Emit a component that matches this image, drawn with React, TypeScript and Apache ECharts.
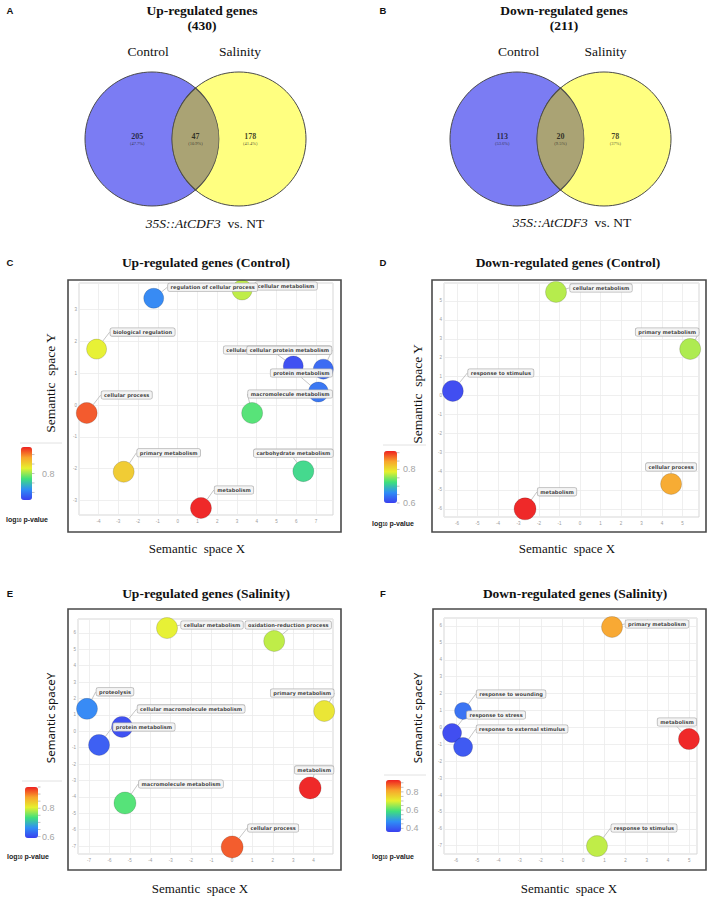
import React, { useEffect, useRef } from "react";
import * as echarts from "echarts";

// ================= DATA =================
// Venn diagrams (Control only, shared, Salinity only)
const vennSetNames = ["Control", "Salinity"];
const upTitle = "Up-regulated genes";
const downTitle = "Down-regulated genes";
const upCounts = [205, 47, 178];
const downCounts = [113, 20, 78];

// Panel C: Up-regulated genes (Control)
const cTerms = [
  "cellular metabolism",
  "regulation of cellular process",
  "biological regulation",
  "cellular macromolecule metabolism",
  "cellular protein metabolism",
  "protein metabolism",
  "cellular process",
  "macromolecule metabolism",
  "primary metabolism",
  "carbohydrate metabolism",
  "metabolism",
];
const cX = [3.26, -1.21, -4.1, 5.85, 7.37, 7.12, -4.6, 3.77, -2.73, 6.36, 1.18];
const cY = [3.62, 3.36, 1.76, 1.23, 1.13, 0.41, -0.25, -0.25, -2.1, -2.08, -3.24];
const cP = [0.814, 0.71, 0.828, 0.668, 0.688, 0.696, 0.918, 0.778, 0.856, 0.766, 0.94];
const cSize = [20, 20, 20, 20, 20, 20, 21, 21, 21, 21, 21];
const cColorTicks = [0.8];

// Panel D: Down-regulated genes (Control)
const dTerms = ["cellular metabolism", "primary metabolism", "response to stimulus", "cellular process", "metabolism"];
const dX = [-1.17, 5.37, -6.2, 4.44, -2.68];
const dY = [5.48, 2.46, 0.24, -4.68, -6.0];
const dP = [0.767, 0.764, 0.606, 0.845, 0.91];
const dSize = [21, 21, 21, 21, 22];
const dColorTicks = [0.8, 0.6];

// Panel E: Up-regulated genes (Salinity)
const eTerms = [
  "cellular metabolism",
  "oxidation-reduction process",
  "proteolysis",
  "cellular macromolecule metabolism",
  "protein metabolism",
  "primary metabolism",
  "metabolism",
  "macromolecule metabolism",
  "cellular process",
];
const eX = [-3.18, 2.07, -7.1, -5.38, -6.51, 4.52, 3.83, -5.24, 0.01];
const eY = [6.3, 5.51, 1.37, 0.27, -0.83, 1.24, -3.45, -4.37, -7.05];
const eP = [0.806, 0.788, 0.655, 0.6, 0.615, 0.817, 0.95, 0.741, 0.921];
const eSize = [21, 21, 21, 21, 21, 21, 22, 22, 22];
const eColorTicks = [0.8, 0.6];

// Panel F: Down-regulated genes (Salinity)
const fTerms = [
  "primary metabolism",
  "response to wounding",
  "response to stress",
  "response to external stimulus",
  "metabolism",
  "response to stimulus",
];
const fX = [1.36, -5.67, -6.19, -5.67, 4.99, 0.65];
const fY = [5.94, 0.97, -0.33, -1.16, -0.69, -7.02];
const fP = [0.816, 0.428, 0.371, 0.389, 0.93, 0.674];
const fSize = [21, 17, 19, 19, 21, 21];
const fColorTicks = [0.8, 0.6, 0.4];

// ================= LAYOUT / STYLE =================
const W = 708;
const H = 899;
const SERIF = "'Liberation Serif', 'Times New Roman', serif";
const SANS = "'Liberation Sans', Arial, sans-serif";
const LABEL_FONT = "'DejaVu Sans', Verdana, sans-serif";
const VIS_COLORS = ["#3a3ff0", "#2f8ef5", "#3fe07c", "#e6f02e", "#f8a52c", "#ee2020"];

// label offsets (px) relative to bubble centre
const cDx = [44, 59, 46, -16, -34, -17, 40, 38, 45, -10, 33];
const cDy = [-4, -11, -17, -16, -19, -19, -18, -19, -19, -18, -18];
const dDx = [45, -23, 48, 0, 32];
const dDy = [-4, -17, -18, -17, -17];
const eDx = [45, 14, 28, 69, 45, -22, 4, 56, 41];
const eDy = [-3, -16, -17, -18, -18, -18, -18, -19, -19];
const fDx = [45, 48, 44, 59, -12, 47];
const fDy = [-3, -17, -18, -18, -17, -18];

// Venn geometry
const VENN_UNIT = 87; // px between circle centres
const VENN_D = 134; // circle diameter
const vennCircleX = [-0.5, 0.5];
const vennLabelX = [-0.67, 0, 0.63];
const vennColors = ["#7b7cf3", "#ffff80"];
const LENS_COLOR = "#aaa374";
const LENS_W = VENN_D - VENN_UNIT;
const LENS_H = 2 * Math.sqrt((VENN_D / 2) ** 2 - (VENN_UNIT / 2) ** 2);
const LENS_PATH = `path://M${LENS_W / 2} 0A${VENN_D / 2} ${VENN_D / 2} 0 0 1 ${LENS_W / 2} ${LENS_H}A${VENN_D / 2} ${VENN_D / 2} 0 0 1 ${LENS_W / 2} 0Z`;

const venns = [
  { title: upTitle, counts: upCounts, midX: 195.5, cy: 139, titleX: 202, setX: [148, 240], captionX: 205, captionY: 223, letter: "A", letterX: 10 },
  { title: downTitle, counts: downCounts, midX: 560.5, cy: 139, titleX: 564, setX: [518.5, 605.5], captionX: 572, captionY: 222, letter: "B", letterX: 383 },
];

const panels = [
  {
    letter: "C", title: "Up-regulated genes (Control)",
    terms: cTerms, x: cX, y: cY, p: cP, size: cSize, dx: cDx, dy: cDy, ticks: cColorTicks,
    grid: { left: 79, top: 283, width: 254, height: 232 }, xr: [-4.99, 7.86], yr: [-3.46, 3.84],
    frame: [68, 280, 273, 252],
    cb: { left: 21, top: 447, w: 11, h: 53, min: 0.66, max: 0.94, labelX: 42 },
    titleXY: [206, 262], letterXY: [10, 262], xNameXY: [197, 548], yNameXY: [50, 383], yName: "Semantic  space Y", ySans: false,
    logXY: [27, 519], sep: [20, 62, 443],
  },
  {
    letter: "D", title: "Down-regulated genes (Control)",
    terms: dTerms, x: dX, y: dY, p: dP, size: dSize, dx: dDx, dy: dDy, ticks: dColorTicks,
    grid: { left: 444, top: 283, width: 255, height: 234 }, xr: [-6.63, 5.8], yr: [-6.43, 5.95],
    frame: [432, 280, 274, 252],
    cb: { left: 384, top: 451, w: 13, h: 52, min: 0.6, max: 0.91, labelX: 403 },
    titleXY: [568, 262], letterXY: [383, 262], xNameXY: [567, 548], yNameXY: [417, 394], yName: "Semantic  space Y", ySans: false,
    logXY: [393, 523], sep: [383, 426, 445],
  },
  {
    letter: "E", title: "Up-regulated genes (Salinity)",
    terms: eTerms, x: eX, y: eY, p: eP, size: eSize, dx: eDx, dy: eDy, ticks: eColorTicks,
    grid: { left: 78, top: 619, width: 255, height: 235 }, xr: [-7.54, 4.95], yr: [-7.48, 6.85],
    frame: [68, 609, 273, 261],
    cb: { left: 25, top: 787, w: 13, h: 51, min: 0.59, max: 0.95, labelX: 42 },
    titleXY: [206, 593], letterXY: [10, 593], xNameXY: [200, 888], yNameXY: [50, 718], yName: "Semantic spaceY", ySans: true,
    logXY: [28, 856], sep: [22, 62, 781],
  },
  {
    letter: "F", title: "Down-regulated genes (Salinity)",
    terms: fTerms, x: fX, y: fY, p: fP, size: fSize, dx: fDx, dy: fDy, ticks: fColorTicks,
    grid: { left: 444, top: 618, width: 253, height: 236 }, xr: [-6.57, 5.37], yr: [-7.49, 6.47],
    frame: [433, 609, 273, 261],
    cb: { left: 386, top: 780, w: 15, h: 52, min: 0.36, max: 0.93, labelX: 406 },
    titleXY: [575, 593], letterXY: [383, 593], xNameXY: [569, 888], yNameXY: [417, 718], yName: "Semantic spaceY", ySans: true,
    logXY: [393, 856], sep: [384, 426, 775],
  },
];

// ================= HELPERS =================
const txt = (x: number, y: number, text: string, o: any = {}) => ({
  type: "text",
  x,
  y,
  rotation: o.rotation || 0,
  silent: true,
  z: 50,
  style: {
    text,
    fill: o.fill || "#111",
    fontSize: o.fontSize || 13,
    fontFamily: o.fontFamily || SERIF,
    fontWeight: o.fontWeight || "normal",
    fontStyle: o.fontStyle || "normal",
    textAlign: o.align || "center",
    textVerticalAlign: "middle",
    align: o.align || "center",
    verticalAlign: "middle",
    rich: o.rich,
  },
});

const intLabel = (v: number) => (Math.abs(v - Math.round(v)) < 1e-6 ? String(Math.round(v)) : "");

const fmtPct = (c: number, total: number) => (Math.round((c / total) * 1000) / 10).toFixed(1).replace(/\.0$/, "");

function buildOption() {
  const grid: any[] = [];
  const xAxis: any[] = [];
  const yAxis: any[] = [];
  const series: any[] = [];
  const visualMap: any[] = [];
  const graphic: any[] = [];

  // ---- Venn diagrams ----
  venns.forEach((v) => {
    const gi = grid.length;
    grid.push({ left: v.midX - 1.5 * VENN_UNIT, top: v.cy - VENN_UNIT, width: 3 * VENN_UNIT, height: 2 * VENN_UNIT, show: false });
    xAxis.push({ type: "value", gridIndex: gi, min: -1.5, max: 1.5, show: false });
    yAxis.push({ type: "value", gridIndex: gi, min: -1, max: 1, show: false });
    const total = v.counts.reduce((a, b) => a + b, 0);
    series.push({
      type: "scatter", xAxisIndex: gi, yAxisIndex: gi, silent: true, clip: false, symbolSize: VENN_D,
      data: vennCircleX.map((x, i) => ({ value: [x, 0], itemStyle: { color: vennColors[i] } })),
      itemStyle: { borderColor: "#4a4a4a", borderWidth: 1, opacity: 1 },
      z: 2,
    });
    series.push({
      type: "scatter", xAxisIndex: gi, yAxisIndex: gi, silent: true, clip: false,
      symbol: LENS_PATH, symbolSize: [LENS_W, LENS_H], data: [[0, 0]],
      itemStyle: { color: LENS_COLOR, borderColor: "#4a4a4a", borderWidth: 1, opacity: 1 },
      z: 3,
    });
    series.push({
      type: "scatter", xAxisIndex: gi, yAxisIndex: gi, silent: true, clip: false, symbolSize: 1,
      itemStyle: { color: "rgba(0,0,0,0)" },
      data: v.counts.map((c, i) => ({ value: [vennLabelX[i], 0], name: String(c) })),
      label: {
        show: true, position: "inside",
        formatter: (p: any) => `{n|${p.name}}\n{p|(${fmtPct(v.counts[p.dataIndex], total)}%)}`,
        rich: {
          n: { fontSize: 8, fontWeight: "bold", fontFamily: SERIF, color: "#111", lineHeight: 8, align: "center" },
          p: { fontSize: 4.5, fontFamily: SERIF, color: "#222", lineHeight: 6, align: "center" },
        },
      },
      z: 4,
    });
    graphic.push(txt(v.letterX, 10, v.letter, { fontFamily: SANS, fontWeight: "bold", fontSize: 9.5 }));
    graphic.push(txt(v.titleX, 10, v.title, { fontWeight: "bold", fontSize: 13.5 }));
    graphic.push(txt(v.titleX, 25, `(${total})`, { fontWeight: "bold", fontSize: 13.5 }));
    vennSetNames.forEach((n, i) => graphic.push(txt(v.setX[i], 51, n, { fontSize: 13.5 })));
    graphic.push(
      txt(v.captionX, v.captionY, "{i|35S::AtCDF3}  vs. NT", {
        fontSize: 13.5,
        rich: { i: { fontStyle: "italic", fontSize: 13.5, fontFamily: SERIF, fill: "#111" } },
      })
    );
  });

  // ---- REVIGO scatter panels ----
  panels.forEach((pn) => {
    const gi = grid.length;
    grid.push({ ...pn.grid, show: true, borderColor: "#d6d6d6", borderWidth: 1, backgroundColor: "#fff" });
    const axisCommon = {
      type: "value",
      gridIndex: gi,
      axisLine: { show: false },
      axisTick: { show: false },
      axisLabel: { fontSize: 4.5, color: "#9a9a9a", fontFamily: SANS, formatter: intLabel, showMinLabel: true, showMaxLabel: true },
      splitLine: { show: true, lineStyle: { color: "#ebebeb", width: 0.8 } },
    };
    xAxis.push({ ...axisCommon, min: pn.xr[0], max: pn.xr[1], splitNumber: Math.round(pn.xr[1] - pn.xr[0]), axisLabel: { ...axisCommon.axisLabel, margin: 4 } });
    yAxis.push({ ...axisCommon, min: pn.yr[0], max: pn.yr[1], splitNumber: Math.round(pn.yr[1] - pn.yr[0]), axisLabel: { ...axisCommon.axisLabel, margin: 2 } });
    const si = series.length;
    const dx = pn.dx;
    const dy = pn.dy;
    series.push({
      type: "scatter",
      xAxisIndex: gi,
      yAxisIndex: gi,
      clip: true,
      silent: true,
      data: pn.terms.map((t, i) => ({ name: t, value: [pn.x[i], pn.y[i], pn.p[i]], symbolSize: pn.size[i] })),
      itemStyle: { opacity: 0.96, borderColor: "rgba(0,0,0,0.2)", borderWidth: 0.8 },
      label: {
        show: true,
        position: "inside",
        formatter: "{b}",
        fontSize: 5.1,
        fontFamily: LABEL_FONT,
        fontWeight: "bold",
        color: "#3a3a3a",
        backgroundColor: "#f4f4f4",
        borderColor: "#b4b4b4",
        borderWidth: 0.8,
        borderRadius: 1.5,
        padding: [1.4, 2.5, 1.1, 2.5],
      },
      labelLine: { show: true, lineStyle: { color: "#b8b8b8", width: 0.8 } },
      labelLayout: (params: any) => ({ dx: dx[params.dataIndex], dy: dy[params.dataIndex] }),
      z: 5,
    });
    const cb = pn.cb;
    visualMap.push({
      type: "continuous",
      seriesIndex: si,
      dimension: 2,
      min: cb.min,
      max: cb.max,
      left: cb.left,
      top: cb.top,
      itemWidth: cb.w,
      itemHeight: cb.h,
      padding: 0,
      calculable: false,
      hoverLink: false,
      showLabel: false,
      text: null,
      inRange: { color: VIS_COLORS },
      textStyle: { fontSize: 0 },
    });
    const valToY = (v: number) => cb.top + ((cb.max - v) / (cb.max - cb.min)) * cb.h;
    pn.ticks.forEach((t) => graphic.push(txt(cb.labelX, valToY(t), t.toFixed(1), { fontFamily: SANS, fontSize: 9, fill: "#a5a5a5", align: "left" })));
    for (let v = Math.ceil(cb.min * 20) / 20; v <= cb.max + 1e-9; v += 0.05) {
      const yy = valToY(v);
      graphic.push({ type: "line", silent: true, z: 50, shape: { x1: cb.left + cb.w, y1: yy, x2: cb.left + cb.w + 2.5, y2: yy }, style: { stroke: "#9a9a9a", lineWidth: 0.6 } });
    }
    graphic.push({ type: "line", silent: true, z: 50, shape: { x1: pn.sep[0], y1: pn.sep[2], x2: pn.sep[1], y2: pn.sep[2] }, style: { stroke: "#e2e2e2", lineWidth: 1 } });
    graphic.push(
      txt(pn.logXY[0], pn.logXY[1], "log{s|10} p-value", {
        fontFamily: SANS, fontWeight: "bold", fontSize: 7, fill: "#222",
        rich: { s: { fontSize: 4.5, fontFamily: SANS, fontWeight: "bold", fill: "#222", padding: [3, 0, 0, 0] } },
      })
    );
    graphic.push({
      type: "rect", silent: true, z: 40,
      shape: { x: pn.frame[0], y: pn.frame[1], width: pn.frame[2], height: pn.frame[3] },
      style: { fill: "none", stroke: "#4a4a4a", lineWidth: 1.6 },
    });
    graphic.push(txt(pn.letterXY[0], pn.letterXY[1], pn.letter, { fontFamily: SANS, fontWeight: "bold", fontSize: 9.5 }));
    graphic.push(txt(pn.titleXY[0], pn.titleXY[1], pn.title, { fontWeight: "bold", fontSize: 13.5 }));
    graphic.push(txt(pn.xNameXY[0], pn.xNameXY[1], "Semantic  space X", { fontSize: 13 }));
    graphic.push(
      txt(pn.yNameXY[0], pn.yNameXY[1], pn.yName, pn.ySans ? { fontFamily: "'Noto Sans', 'Open Sans', sans-serif", fontSize: 11.5, rotation: Math.PI / 2 } : { fontSize: 13.5, rotation: Math.PI / 2 })
    );
  });

  return {
    animation: false,
    backgroundColor: "#ffffff",
    grid,
    xAxis,
    yAxis,
    visualMap,
    series,
    graphic: { elements: graphic },
  };
}

export default function App() {
  const ref = useRef<HTMLDivElement>(null);
  useEffect(() => {
    if (!ref.current) return;
    const chart = echarts.init(ref.current, null, { renderer: "svg" });
    chart.setOption(buildOption() as any);
    return () => chart.dispose();
  }, []);
  return <div ref={ref} style={{ position: "fixed", left: 0, top: 0, width: W, height: H, background: "#fff" }} />;
}
